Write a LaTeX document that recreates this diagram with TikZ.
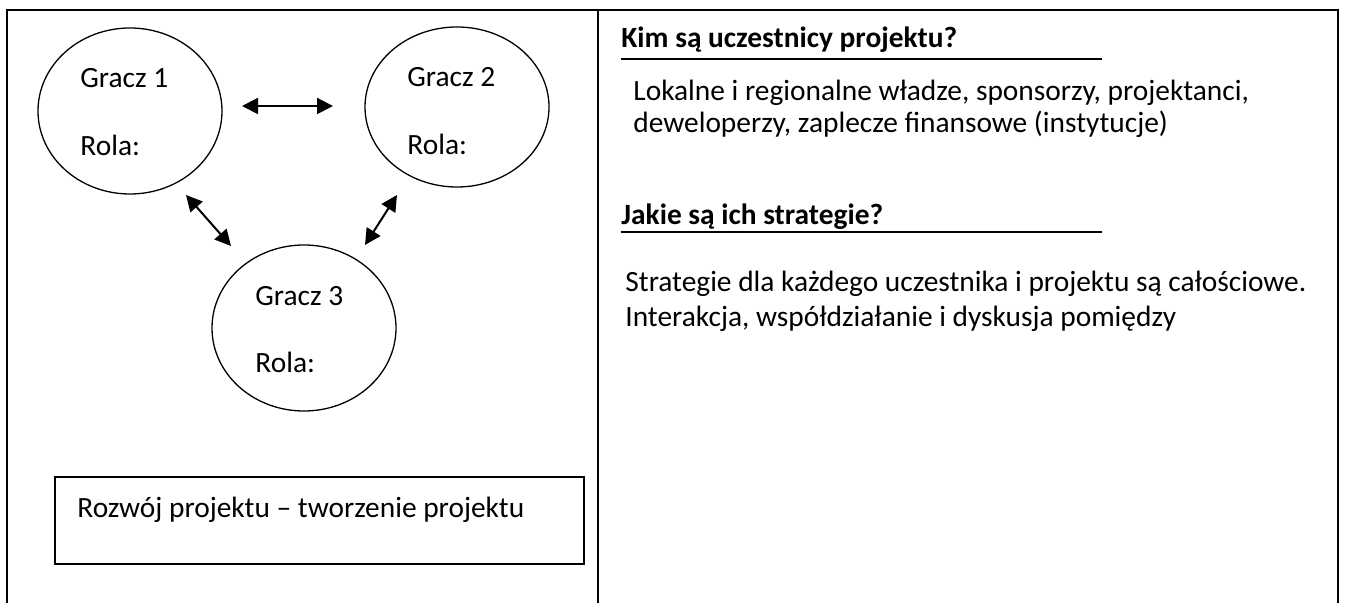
\documentclass[tikz,border=0pt]{standalone}
\usepackage{fontspec}
\setmainfont{Carlito}
\usetikzlibrary{arrows.meta,shapes.geometric}
\tikzset{>={Triangle[length=8pt,width=8pt]}}
\tikzset{
  gracz/.style={draw, ellipse, line width=0.65pt, minimum width=92pt, minimum height=83pt, inner sep=0pt},
  txt/.style={anchor=base west, inner sep=0pt, font=\fontsize{14.7}{17}\selectfont},
  naglowek/.style={anchor=base west, inner sep=0pt, font=\fontsize{14.7}{17}\selectfont\bfseries},
  dwa/.style={<->, line width=1pt}
}

\begin{document}
\begin{tikzpicture}[x=0.5pt, y=-0.5pt]
    \useasboundingbox (0,0) rectangle (1347,603);
    \draw[line width=1pt] (7,603) -- (7,10) -- (1338,10) -- (1338,603);
    \draw[line width=1pt] (598,10) -- (598,603);

    \node[gracz] (g1) at (130,111) {};
    \node[gracz, minimum height=80pt] (g2) at (457,107) {};
    \node[gracz] (g3) at (304,328) {};
    \node[txt] (g1a) at (80,88) {Gracz 1};
    \node[txt] (g1b) at (80,156) {Rola:};
    \node[txt] (g2a) at (407,87) {Gracz 2};
    \node[txt] (g2b) at (407,155) {Rola:};
    \node[txt] (g3a) at (255,306) {Gracz 3};
    \node[txt] (g3b) at (255,373) {Rola:};

    \coordinate (s12) at (242,106);
    \coordinate (e12) at (333,106);
    \coordinate (s13) at (186,195);
    \coordinate (e13) at (231,246);
    \coordinate (s23) at (397,195);
    \coordinate (e23) at (365,245);
    \draw[dwa] (s12) -- (e12);
    \draw[dwa] (s13) -- (e13);
    \draw[dwa] (s23) -- (e23);

    \draw[line width=0.9pt] (55,477) rectangle (584,564);
    \node[txt] (rozwoj) at (77,517) {Rozwój projektu – tworzenie projektu};

    \node[naglowek] (kim) at (621,48) {Kim są uczestnicy projektu?};
    \draw[line width=0.75pt] (kim.base west) ++(0,11) coordinate (k1) -- (1102,59);
    \node[txt] (lok1) at (633,101) {Lokalne i regionalne władze, sponsorzy, projektanci,};
    \node[txt] (lok2) at (633,133) {deweloperzy, zaplecze finansowe (instytucje)};

    \node[naglowek] (jakie) at (621,225) {Jakie są ich strategie?};
    \draw[line width=0.75pt] (jakie.base west) ++(0,7) coordinate (j1) -- (1102,232);
    \node[txt] (str1) at (625,292) {Strategie dla każdego uczestnika i projektu są całościowe.};
    \node[txt] (str2) at (625,327) {Interakcja, współdziałanie i dyskusja pomiędzy};
\end{tikzpicture}
\end{document}
